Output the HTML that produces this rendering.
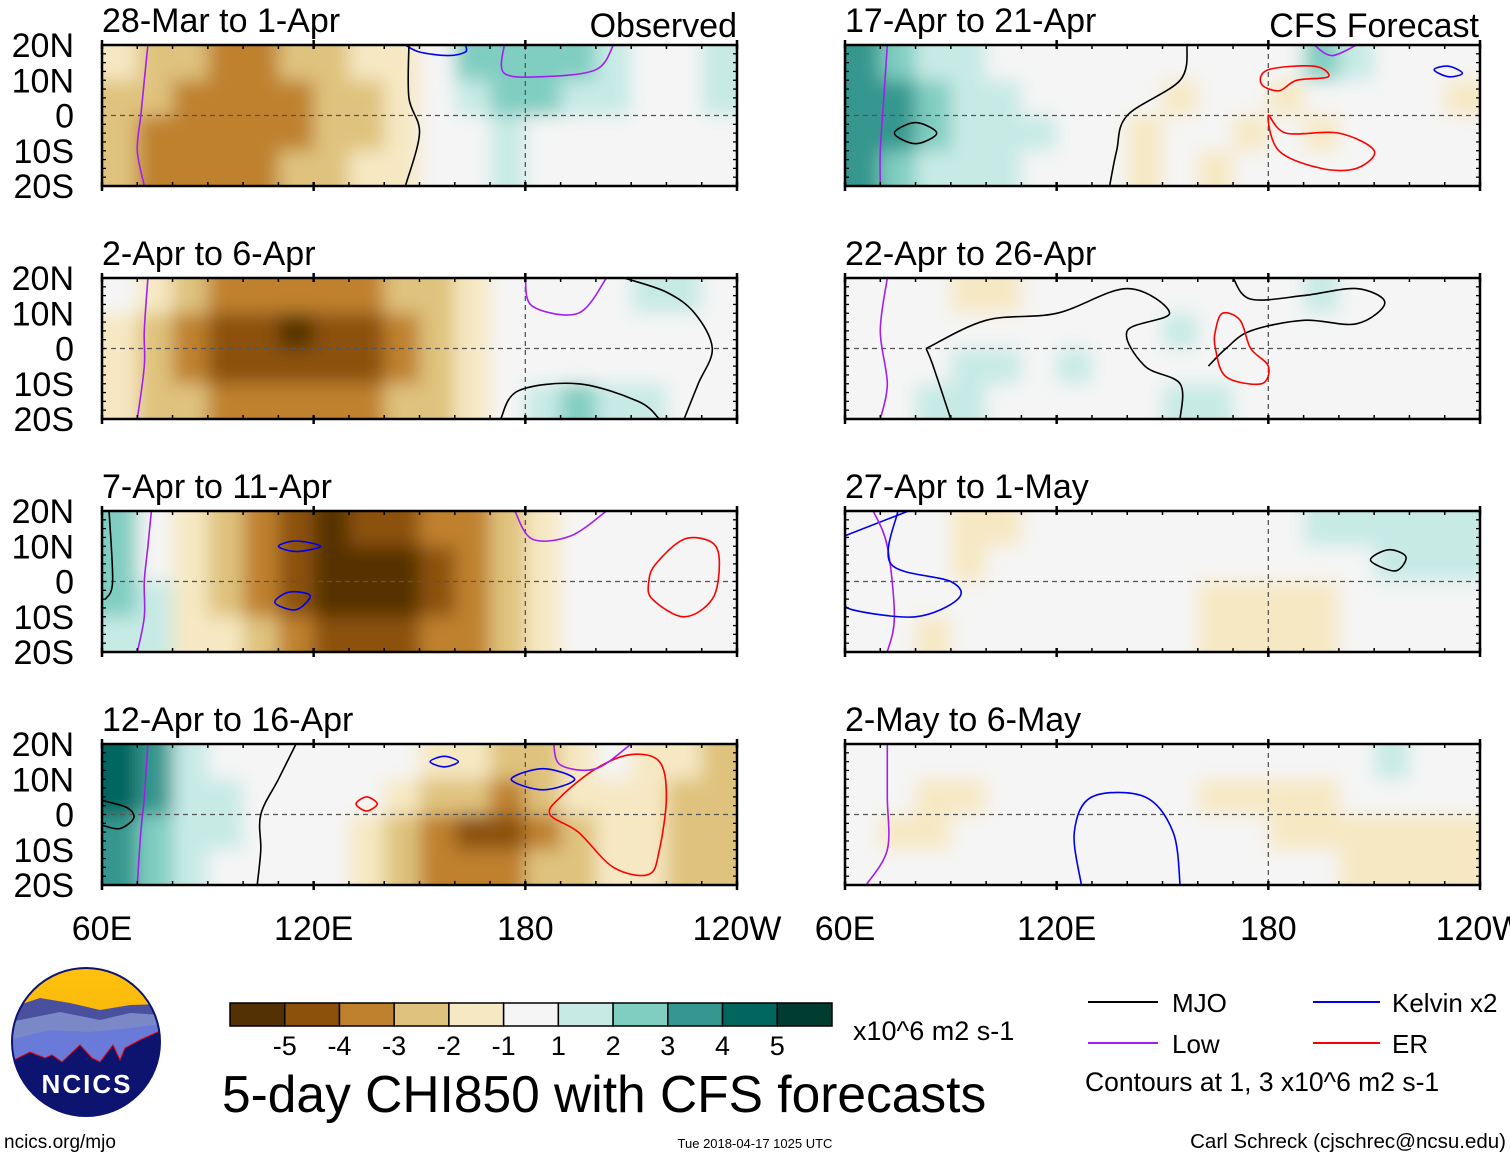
<!DOCTYPE html>
<html><head><meta charset="utf-8"><style>
body{margin:0;background:#fff;}
svg{display:block;font-family:"Liberation Sans",sans-serif;}
</style></head><body>
<svg id="chart" width="1510" height="1158" viewBox="0 0 1510 1158" xmlns="http://www.w3.org/2000/svg">
<defs>
<filter id="blur" x="-10%" y="-30%" width="120%" height="160%"><feGaussianBlur stdDeviation="9"/></filter>
<linearGradient id="sky" x1="0" y1="0" x2="0" y2="1"><stop offset="0" stop-color="#ffc20e"/><stop offset="1" stop-color="#f2a500"/></linearGradient>
<clipPath id="logoclip"><circle cx="86" cy="1042" r="74"/></clipPath>
</defs>
<g id="panels"></g>
<g id="bottom"></g>
</svg>
<script>
const NS="http://www.w3.org/2000/svg";
const panelTitles=["28-Mar to 1-Apr","2-Apr to 6-Apr","7-Apr to 11-Apr","12-Apr to 16-Apr","17-Apr to 21-Apr","22-Apr to 26-Apr","27-Apr to 1-May","2-May to 6-May"];
const latLabels=["20N","10N","0","10S","20S"];
const lonLabels=["60E","120E","180","120W"];
const levelColors=["#543005","#8c510a","#bf812d","#dfc27d","#f6e8c3","#f5f5f5","#c7eae5","#80cdc1","#35978f","#01665e","#003c30"];
const cbLabels=["-5","-4","-3","-2","-1","1","2","3","4","5"];
// gridded CHI850 anomalies: 4 lat bands (20N-10N,10N-0,0-10S,10S-20S) x 18 lon cols (60E..240E step 10)
const chi0=[[-1.5,-2,-2.5,-3,-3,-2.5,-2,-1.5,-1,0,2,2.5,2.5,2,1.5,0.5,0,1],[-2,-2.5,-3,-3.5,-3.5,-3,-2.5,-2,-1.5,0,1.5,2,2,1.5,1,0.5,0,1],[-2,-3,-3.5,-3.5,-3.5,-3,-2.5,-2,-1,0,0.5,1,0.5,0,0,0,0,0],[-2,-3,-3.2,-3.2,-3,-2.5,-2,-1.5,-1,0,0.5,1,0.5,0,0,0,0,0]];
const chi1=[[0,-1.5,-2,-3,-3.5,-3.5,-3.5,-3,-2.5,-2,-1,0,0,0,0,1,1,0],[-1,-2,-3,-4,-4.5,-5,-4.5,-4,-3.5,-2.5,-1.5,0,0,0,0,0,0,0],[-1,-2,-3,-4,-4.5,-4.5,-4.5,-4,-3.5,-2.5,-1.5,0,0,0,0,0,0,0],[-1,-2,-2.5,-3,-3.5,-3.5,-3.5,-3,-2.5,-2,-1,0,1,2,1.5,1,0,0]];
const chi2=[[2,0,-1,-2,-3,-4,-5,-4.5,-4,-3.5,-3,-2,-1,0,0,0,0,0],[2,0,-1,-2,-3,-4.5,-5,-5.5,-5,-4.5,-3.5,-2.5,-1,0,0,0,0,0],[2,1,-1,-2,-3,-4,-5,-5.5,-5.5,-4.5,-3.5,-2.5,-1.5,0,0,0,0,0],[1.5,1,-1,-1.5,-2.5,-3.5,-4,-4,-4,-3.5,-3,-2,-1,0,0,0,0,0]];
const chi3=[[4,3,1.5,0,0,0,0,0,0,-1,-1.5,-2,-2,-1,0,-1,-1.5,-2],[4,3,1.5,1,0,0,0,0,-1,-2,-2.5,-3,-2,-1,-1,-1.5,-2,-2.5],[3.5,2.5,1.5,1,0,0,0,-1,-2,-3,-4,-4,-3,-2,-1.5,-1.5,-2,-2.5],[3,2,1,0.5,0,0,0,-1,-2,-3,-3.5,-3.5,-2.5,-2,-1.5,-1.5,-2,-2.5]];
const chi4=[[3,2,1,1,0,0,0,0,0,0,0,0,0,2,1,0,0,0],[3.5,3,2,1,1,0,0,0,0,-1,0,0,-1,0,0,0,0,-1],[3.5,3,2,1,1,1,0,0,-1,0,0,-1,0,-1,0,0,0,0],[3,2.5,1.5,1,1,0,0,0,-1,0,-1,0,0,0,0,0,0,0]];
const chi5=[[0,0,0,-1,-1,0,0,0,0,0,0,0,0,1,0,0,0,0],[0,0,0,0,0,0,0,0,0,1,0,0,0,0,0,0,0,0],[0,0,0,1,1,0,1,0,0,0,0,0,0,0,0,0,0,0],[0,0,1,1,0,0,0,0,0,1,1,0,0,0,0,0,0,0]];
const chi6=[[0,0,0,-1,-1,0,0,0,0,0,0,0,0,1,1,1,1,1],[0,0,0,-1,0,0,0,0,0,0,0,0,0,0,0,1,1.5,1],[0,0,0,0,0,0,0,0,0,0,-1,-1,-1,-1,0,0,0,0],[0,0,-1,0,0,0,0,0,0,0,-1,-1,-1,-1,0,0,0,0]];
const chi7=[[0,0,0,0,0,0,0,0,0,0,0,0,0,0,0,1,0,0],[0,0,-1,-1,0,0,0,0,0,0,-1,-1,-1,-1,0,0,0,0],[0,-1,-1,0,0,0,0,0,0,0,0,0,-1,-1,-1,-1,-1,-1],[0,0,0,0,0,0,0,0,0,0,0,0,0,0,-1,-1,-1,-1]];
const chiGrids=[chi0,chi1,chi2,chi3,chi4,chi5,chi6,chi7];
// contours: [panel, type, [[lon,lat],...]]
const contours=[
[0,"kelvin",[[146,20],[150,18],[158,17],[163,18],[163,20]]],
[0,"low",[[73,20],[72,10],[71,0],[70,-10],[72,-20]]],
[0,"low",[[174,20],[174,12],[185,11],[200,13],[205,20]]],
[0,"mjo",[[147,20],[147,5],[150,-5],[146,-20]]],
[1,"low",[[73,20],[72,5],[72,-5],[70,-20]]],
[1,"low",[[180,20],[182,12],[195,10],[203,20]]],
[1,"kelvin",[[195,20],[206,20]]],
[1,"mjo",[[208,20],[220,16],[228,10],[233,0],[229,-10],[225,-20]]],
[1,"mjo",[[173,-20],[178,-12],[195,-10],[212,-15],[218,-20]]],
[2,"low",[[74,20],[73,10],[72,0],[72,-10],[70,-20]]],
[2,"low",[[177,20],[182,12],[193,13],[203,20]]],
[2,"er",[[217,5],[225,12],[233,11],[235,5],[233,-5],[225,-10],[216,-5],[215,0],[217,5]]],
[2,"kelvin",[[110,10],[115,11.5],[122,10],[115,8.5],[110,10]]],
[2,"kelvin",[[109,-6],[113,-3],[119,-4],[115,-8],[109,-6]]],
[2,"mjo",[[62,20],[63,0],[61,-5]]],
[3,"mjo",[[60,4],[67,2],[69,-1],[65,-4],[60,-3]]],
[3,"mjo",[[115,20],[110,10],[105,0],[105,-10],[104,-20]]],
[3,"low",[[73,20],[72,5],[71,-5],[70,-20]]],
[3,"kelvin",[[153,15],[157,16.5],[161,15],[157,13.5],[153,15]]],
[3,"kelvin",[[176,10],[185,13],[194,10],[185,7],[176,10]]],
[3,"er",[[132,3],[135,5],[138,3],[135,1],[132,3]]],
[3,"er",[[200,13],[210,17],[218,15],[220,5],[218,-10],[215,-17],[205,-15],[195,-5],[187,0],[190,5],[200,13]]],
[3,"low",[[188,20],[190,14],[200,13],[210,20]]],
[4,"low",[[72,20],[71,5],[70,-10],[70,-20]]],
[4,"mjo",[[74,-5],[80,-2],[86,-5],[80,-8],[74,-5]]],
[4,"mjo",[[157,20],[155,10],[140,0],[137,-10],[135,-20]]],
[4,"er",[[183,7],[188,10],[197,11],[193,14],[180,13],[178,9],[183,7]]],
[4,"er",[[180,0],[185,-5],[200,-5],[210,-10],[205,-15],[195,-15],[183,-10],[180,0]]],
[4,"low",[[193,20],[198,17],[205,20]]],
[4,"kelvin",[[227,13],[231,14],[235,12],[231,11],[227,13]]],
[5,"low",[[72,20],[70,5],[72,-10],[70,-20]]],
[5,"mjo",[[83,0],[100,8],[120,10],[140,17],[152,10],[140,5],[145,-5],[155,-10],[155,-20]]],
[5,"mjo",[[90,-20],[85,-5],[83,0]]],
[5,"mjo",[[170,20],[175,14],[190,15],[205,17],[213,13],[205,7],[190,8],[175,5],[168,0],[163,-5]]],
[5,"er",[[165,0],[165,5],[167,10],[172,8],[175,0],[180,-5],[178,-10],[168,-8],[165,0]]],
[6,"kelvin",[[60,13],[78,20]]],
[6,"low",[[68,20],[72,10],[74,-10],[72,-20]]],
[6,"kelvin",[[75,20],[73,5],[90,0],[92,-5],[80,-10],[62,-8],[60,-5]]],
[6,"mjo",[[209,6],[214,9],[219,7],[216,3],[209,6]]],
[7,"low",[[72,20],[72,5],[72,-10],[66,-20]]],
[7,"kelvin",[[127,-20],[125,-5],[130,5],[145,5],[153,-5],[155,-20]]]
];
const typeColors={mjo:"#000000",low:"#a020f0",kelvin:"#0000ee",er:"#ff0000"};
const panelX=[102,845], panelY=[45,278,511,744], PW=635, PH=141;
const root=document.getElementById('panels');
function mk(tag,attrs,parent){const e=document.createElementNS(NS,tag);for(const k in attrs)e.setAttribute(k,attrs[k]);if(parent)parent.appendChild(e);return e;}
function colorFor(v){const idx=5+Math.trunc(v); return levelColors[Math.max(0,Math.min(10,idx))];}
function smoothPath(pts){
  const closed=pts.length>2&&pts[0][0]===pts[pts.length-1][0]&&pts[0][1]===pts[pts.length-1][1];
  let P=closed?pts.slice(0,-1):pts.slice();
  const n=P.length; if(n<3) return 'M'+P.map(p=>p[0].toFixed(1)+','+p[1].toFixed(1)).join(' L');
  const get=i=>closed?P[(i+n)%n]:P[Math.max(0,Math.min(n-1,i))];
  let d='M'+P[0][0].toFixed(1)+','+P[0][1].toFixed(1);
  const segs=closed?n:n-1;
  for(let i=0;i<segs;i++){const p0=get(i-1),p1=get(i),p2=get(i+1),p3=get(i+2);
    const c1=[p1[0]+(p2[0]-p0[0])/6,p1[1]+(p2[1]-p0[1])/6],c2=[p2[0]-(p3[0]-p1[0])/6,p2[1]-(p3[1]-p1[1])/6];
    d+=' C'+c1.map(v=>v.toFixed(1)).join(',')+' '+c2.map(v=>v.toFixed(1)).join(',')+' '+p2.map(v=>v.toFixed(1)).join(',');}
  return d+(closed?'Z':'');
}
const defs=document.querySelector('defs');
chiGrids.forEach((grid,p)=>{
  const col=p<4?0:1,row=p%4;
  const x0=panelX[col],y0=panelY[row];
  const xs=lon=>x0+(lon-60)/180*PW, ys=lat=>y0+(20-lat)/40*PH;
  const g=mk('g',{},root);
  
  
  const cp=mk('clipPath',{id:'cp'+p},defs); mk('rect',{x:x0,y:y0,width:PW,height:PH},cp);
  const fg=mk('g',{'clip-path':'url(#cp'+p+')'},g);
  mk('rect',{x:x0,y:y0,width:PW,height:PH,fill:'#f5f5f5'},fg);
  const bg=mk('g',{filter:'url(#blur)'},fg);
  grid.forEach((r,ri)=>r.forEach((v,ci)=>{
    let x=xs(60+ci*10),w=xs(70)-xs(60),y=ys(20-ri*10),h=ys(10)-ys(20);
    if(ci===0){x-=40;w+=40;} if(ci===17)w+=40;
    if(ri===0){y-=40;h+=40;} if(ri===3)h+=40;
    const c=mk('rect',{x:x,y:y,width:w+0.5,height:h+0.5,fill:colorFor(v)},bg);
    
    
  }));
  mk('line',{x1:x0,x2:x0+PW,y1:ys(0),y2:ys(0),stroke:'#555','stroke-dasharray':'5 4','stroke-width':1.3},fg);
  mk('line',{x1:xs(180),x2:xs(180),y1:y0,y2:y0+PH,stroke:'#555','stroke-dasharray':'5 4','stroke-width':1.3},fg);
  contours.filter(c=>c[0]===p).forEach(c=>{
    const pl=mk('path',{d:smoothPath(c[2].map(q=>[xs(q[0]),ys(q[1])])),fill:'none',stroke:typeColors[c[1]],'stroke-width':1.6,'stroke-linejoin':'round'},fg);
    
    
  });
  mk('rect',{x:x0,y:y0,width:PW,height:PH,fill:'none',stroke:'#000','stroke-width':2.5},g);
  for(let lon=60;lon<=240;lon+=10){const big=(lon%60===0);
    mk('line',{x1:xs(lon),x2:xs(lon),y1:y0-(big?5:0),y2:y0+4,stroke:'#000','stroke-width':big?2.5:1.5},g);
    mk('line',{x1:xs(lon),x2:xs(lon),y1:y0+PH-4,y2:y0+PH+(big?5:0),stroke:'#000','stroke-width':big?2.5:1.5},g);}
  for(let lat=-20;lat<=20;lat+=2.5){mk('line',{x1:x0,x2:x0+4,y1:ys(lat),y2:ys(lat),stroke:'#000','stroke-width':1.3},g);mk('line',{x1:x0+PW-4,x2:x0+PW,y1:ys(lat),y2:ys(lat),stroke:'#000','stroke-width':1.3},g);}
  const t=mk('text',{x:x0,y:y0-13,'font-size':34,fill:'#000'},g); t.textContent=panelTitles[p];
  
  
  if(col===0){latLabels.forEach((l,i)=>{const tt=mk('text',{x:74,y:y0+i*PH/4+12,'font-size':34,'text-anchor':'end'},g);tt.textContent=l;
    
    });}
  if(row===3){lonLabels.forEach((l,i)=>{const tt=mk('text',{x:x0+i*PW/3,y:940,'font-size':34,'text-anchor':'middle'},g);tt.textContent=l;
    
    });}
});
const o1=mk('text',{x:737,y:37,'font-size':34,'text-anchor':'end'},root);o1.textContent='Observed';


const o2=mk('text',{x:1479,y:37,'font-size':34,'text-anchor':'end'},root);o2.textContent='CFS Forecast';


// colorbar
const bot=document.getElementById('bottom');
const cbx=230,cbw=602/11;
levelColors.forEach((c,i)=>{const r=mk('rect',{x:cbx+i*cbw,y:1003,width:cbw,height:23,fill:c,stroke:'#000','stroke-width':1.5},bot);
  
  });
cbLabels.forEach((l,i)=>{const t=mk('text',{x:cbx+(i+1)*cbw,y:1055,'font-size':27,'text-anchor':'middle'},bot);t.textContent=l;
  
  });
</script>
<script>
(function(){
const s=document.getElementById('chart');
s.insertAdjacentHTML('beforeend',`
<text x="853" y="1040" font-size="27">x10^6 m2 s-1</text>
<text x="222" y="1112" font-size="51.5">5-day CHI850 with CFS forecasts</text>
<g>
<line x1="1088" x2="1158" y1="1002" y2="1002" stroke="#000" stroke-width="2"/><text x="1172" y="1012" font-size="26">MJO</text>
<line x1="1313" x2="1380" y1="1002" y2="1002" stroke="#0000ee" stroke-width="2"/><text x="1392" y="1012" font-size="26">Kelvin x2</text>
<line x1="1088" x2="1158" y1="1043" y2="1043" stroke="#a020f0" stroke-width="2"/><text x="1172" y="1053" font-size="26">Low</text>
<line x1="1313" x2="1380" y1="1043" y2="1043" stroke="#ff0000" stroke-width="2"/><text x="1392" y="1053" font-size="26">ER</text>
<text x="1085" y="1091" font-size="26.5">Contours at 1, 3 x10^6 m2 s-1</text>
</g>
<g>
<g clip-path="url(#logoclip)">
<rect x="10" y="966" width="152" height="152" fill="url(#sky)"/>
<path d="M10 1008 L40 998 L70 1003 L100 1010 L130 1005 L162 1004 L162 1120 L10 1120Z" fill="#4a4f9e"/>
<path d="M10 1022 L60 1012 L100 1020 L130 1013 L162 1015 L162 1120 L10 1120Z" fill="#7a88c8"/>
<path d="M10 1040 L50 1030 L90 1032 L130 1028 L162 1024 L162 1120 L10 1120Z" fill="#6a7ad8"/>
<path d="M10 1062 L30 1052 L45 1058 L52 1055 L62 1062 L80 1045 L92 1058 L100 1062 L113 1045 L120 1060 L125 1048 L140 1040 L162 1030 L162 1120 L10 1120Z" fill="#0d1470" stroke="#e00" stroke-width="1"/>
</g>
<circle cx="86" cy="1042" r="74" fill="none" stroke="#0d1470" stroke-width="2"/>
<text x="87" y="1093" font-size="26" font-weight="bold" fill="#fff" text-anchor="middle" letter-spacing="2">NCICS</text>
</g>
<text x="4" y="1148" font-size="19">ncics.org/mjo</text>
<text x="755" y="1148" font-size="13" text-anchor="middle">Tue 2018-04-17 1025 UTC</text>
<text x="1506" y="1148" font-size="20.5" text-anchor="end">Carl Schreck (cjschrec@ncsu.edu)</text>
`);
})();
</script>
</body></html>
